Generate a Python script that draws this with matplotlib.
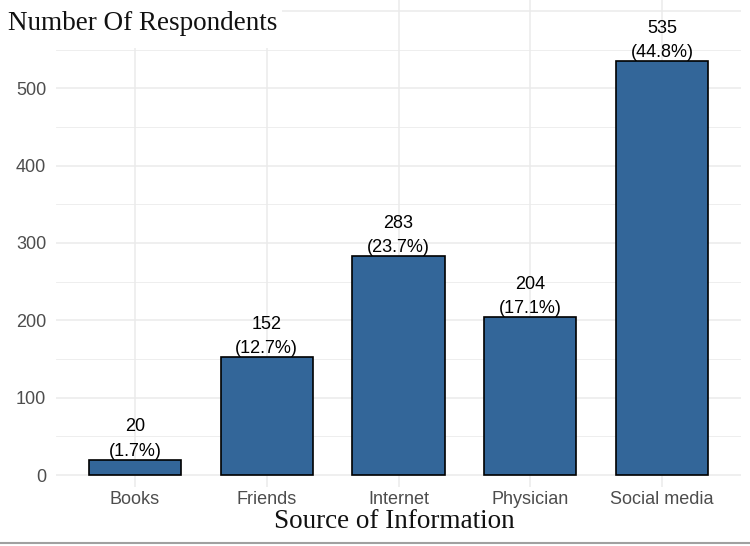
import matplotlib
matplotlib.use("Agg")
import matplotlib.pyplot as plt
from matplotlib.patches import Rectangle
from matplotlib.lines import Line2D

# data
sources = ["Books", "Friends", "Internet", "Physician", "Social media"]
counts = [20, 152, 283, 204, 535]
percents = ["1.7%", "12.7%", "23.7%", "17.1%", "44.8%"]

bar_color = "#336699"
grid_col = "#EBEBEB"
tick_col = "#4D4D4D"

fig = plt.figure(figsize=(7.5, 5.46), dpi=100)
ax = fig.add_axes([56 / 750, 1 - 487 / 546, (741 - 56) / 750, 487 / 546])

x = range(len(sources))
ax.bar(x, counts, width=0.7, color=bar_color, edgecolor="black", linewidth=1.2, zorder=3)

for xi, c, p in zip(x, counts, percents):
    ax.text(xi, c, f"{c}\n({p})", ha="center", va="bottom", fontsize=13,
            family="Liberation Sans", color="black", linespacing=1.55, zorder=4)

ax.set_xlim(-0.6, len(sources) - 0.4)
ax.set_ylim(-15.5, 614)
ax.set_xticks(list(x))
ax.set_xticklabels(sources)
ax.set_yticks([0, 100, 200, 300, 400, 500, 600])
ax.set_yticklabels(["0", "100", "200", "300", "400", "500", ""])
ax.set_yticks([50, 150, 250, 350, 450, 550], minor=True)

ax.grid(True, which="major", color=grid_col, linewidth=1.1, zorder=0)
ax.grid(True, which="minor", axis="y", color=grid_col, linewidth=0.6, zorder=0)
ax.set_axisbelow(True)
ax.tick_params(which="both", length=0)
ax.tick_params(axis="x", pad=3, labelsize=13, labelcolor=tick_col)
ax.tick_params(axis="y", pad=7, labelsize=13, labelcolor=tick_col)
for lab in ax.get_xticklabels() + ax.get_yticklabels():
    lab.set_family("Liberation Sans")
for s in ax.spines.values():
    s.set_visible(False)

# axis titles
fig.patches.append(Rectangle((0, 1 - 48 / 546), 282 / 750, 48 / 546,
                             transform=fig.transFigure, facecolor="white",
                             edgecolor="none", zorder=5))
fig.text(8 / 750, 1 - 23 / 546, "Number Of Respondents", ha="left", va="center",
         fontsize=19.5, family="Liberation Serif", color="#111111", zorder=6)
fig.text(394 / 750, 1 - 522 / 546, "Source of Information", ha="center", va="center",
         fontsize=19.5, family="Liberation Serif", color="#111111")

fig.add_artist(Line2D([0, 1], [3 / 546, 3 / 546], transform=fig.transFigure,
                      color="#A0A0A0", linewidth=1.5))

fig.savefig("out.png", dpi=100)
